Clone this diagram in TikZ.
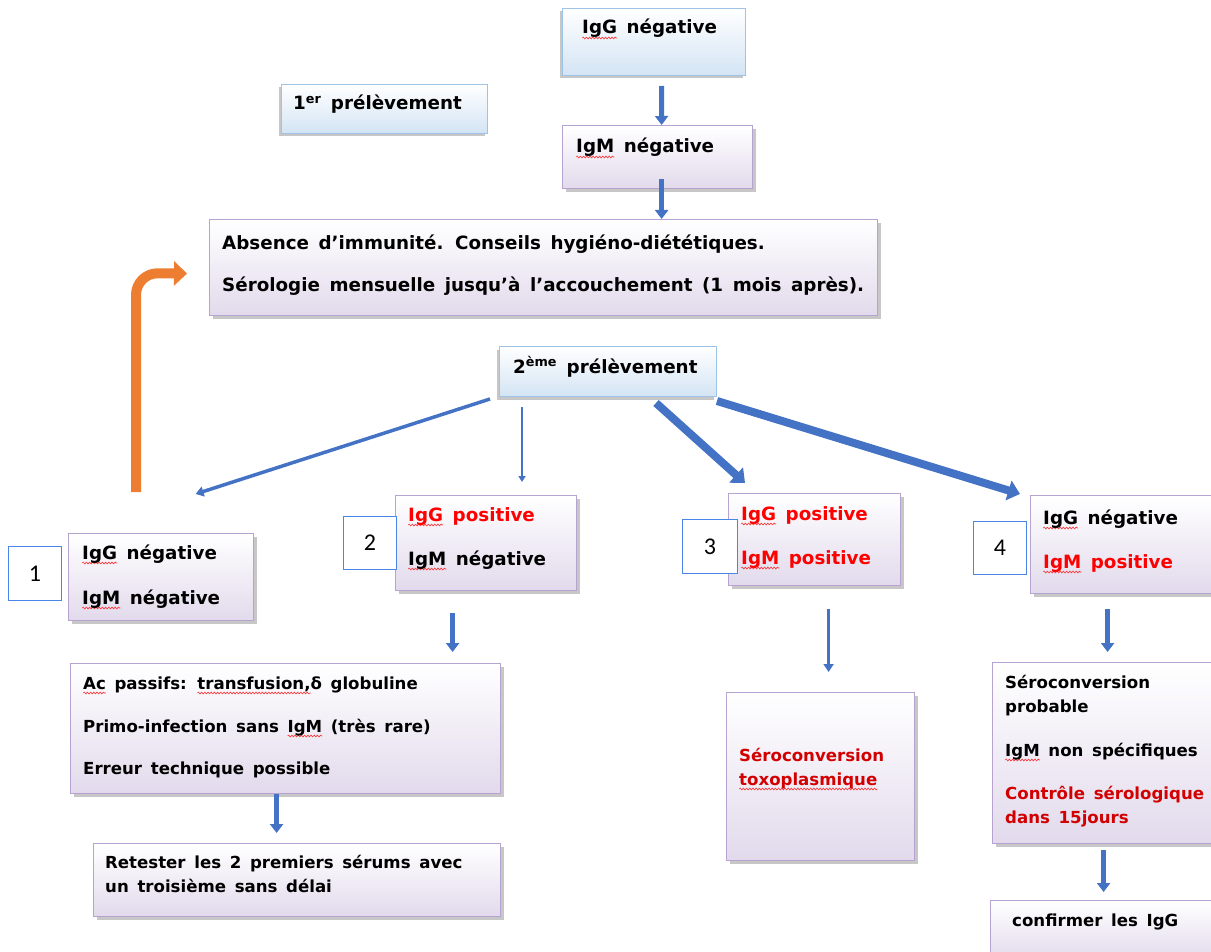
\documentclass[tikz,border=0pt]{standalone}
\usepackage{fontspec}
\setmainfont{DejaVu Sans}[WordSpace=1.5]
\newfontfamily\numfont{Carlito}
\usetikzlibrary{arrows.meta,shadows,decorations.pathmorphing}
\definecolor{boxblue}{HTML}{9DC3E6}
\definecolor{bluebot}{HTML}{D3E4F4}
\definecolor{purpborder}{HTML}{B7A3D0}
\definecolor{purpbot}{HTML}{E2DAEC}
\definecolor{numblue}{HTML}{4A86E8}
\definecolor{arrblue}{HTML}{4472C4}
\definecolor{arrorange}{HTML}{ED7D31}
\definecolor{redtxt}{HTML}{FF0000}
\definecolor{darkred}{HTML}{D20000}
\definecolor{squig}{HTML}{FF3030}
\newlength\sqlen
\newcommand\sq[1]{\settowidth{\sqlen}{#1}\leavevmode\rlap{\tikz[baseline=0pt,x=1pt,y=1pt]{\useasboundingbox (0pt,0pt);\draw[draw=squig, line width=0.6pt, decorate, decoration={snake,amplitude=0.9pt,segment length=3.2pt}] (0pt,-4pt) -- (\sqlen,-4pt);}}#1}
\tikzset{
  bbox/.style={draw=boxblue, line width=1pt, top color=white, bottom color=bluebot,
    drop shadow={shadow xshift=-3pt, shadow yshift=-3pt, fill=black!40, opacity=.55},
    anchor=north west, inner sep=0pt},
  pbox/.style={draw=purpborder, line width=1.2pt, top color=white, bottom color=purpbot,
    drop shadow={shadow xshift=3pt, shadow yshift=-3pt, fill=black!40, opacity=.55},
    anchor=north west, inner sep=0pt},
  numbox/.style={draw=numblue, line width=1pt, fill=white, anchor=north west,
    inner sep=0pt, font=\numfont\fontsize{24}{28}\selectfont},
  big/.style={anchor=base west, inner sep=0pt, font=\bfseries\fontsize{18.3}{22}\selectfont},
  small/.style={anchor=base west, inner sep=0pt, font=\bfseries\fontsize{16.6}{19}\selectfont},
  varr/.style={draw=arrblue, line width=5pt, -{Triangle[width=13pt,length=9pt]}},
  thinarr/.style={draw=arrblue, line width=2pt, -{Triangle[width=7pt,length=6pt]}},
  midarr/.style={draw=arrblue, line width=3.5pt, -{Triangle[width=10pt,length=8pt]}},
  fatarr/.style={draw=arrblue, line width=8pt, -{Triangle[width=20pt,length=12pt]}},
}
\begin{document}
\begin{tikzpicture}[x=1pt,y=-1pt]
\useasboundingbox (0,0) rectangle (1211,952);
% ---- top part
\node[bbox, minimum width=183pt, minimum height=67pt] (igg) at (562,8) {};
\node[pbox, minimum width=190pt, minimum height=63pt] (igm) at (562,125) {};
\node[bbox, minimum width=206pt, minimum height=49pt] (pr1) at (281,84) {};
\node[pbox, minimum width=668pt, minimum height=96pt] (absn) at (209,219) {};
\node[bbox, minimum width=217pt, minimum height=50pt] (pr2) at (499,346) {};
\node[big] (tigg) at (582,34) {\sq{IgG} négative};
\node[big] (tigm) at (576,153) {\sq{IgM} négative};
\node[big] (tpr1) at (293,110) {1\textsuperscript{er} prélèvement};
\node[big] (tabs1) at (222,250) {Absence d’immunité. Conseils hygiéno-diététiques.};
\node[big] (tabs2) at (222,292) {Sérologie mensuelle jusqu'à l’accouchement (1 mois après).};
\node[big] (tpr2) at (513,373) {2\textsuperscript{ème} prélèvement};
\draw[varr] ([shift={(7.5,10)}]igg.south) -- ([shift={(4,0)}]igm.north);
\draw[varr] ([shift={(4,-10)}]igm.south) -- ([shift={(118,0)}]absn.north);
% ---- second row
\node[pbox, minimum width=185pt, minimum height=87pt] (b1) at (68,533) {};
\node[numbox, minimum width=53pt, minimum height=54pt] (n1) at (8,546) {1};
\node[pbox, minimum width=181pt, minimum height=95pt] (b2) at (395,495) {};
\node[numbox, minimum width=53pt, minimum height=53pt] (n2) at (343,516) {2};
\node[pbox, minimum width=172pt, minimum height=92pt] (b3) at (728,493) {};
\node[numbox, minimum width=55pt, minimum height=54pt] (n3) at (682,519) {3};
\node[pbox, minimum width=200pt, minimum height=98pt] (b4) at (1030,495) {};
\node[numbox, minimum width=53pt, minimum height=53pt] (n4) at (973,521) {4};
\node[big] (tb1a) at (82,559) {\sq{IgG} négative};
\node[big] (tb1b) at (82,604) {\sq{IgM} négative};
\node[big, text=redtxt] (tb2a) at (408,521) {\sq{IgG} positive};
\node[big] (tb2b) at (408,565) {\sq{IgM} négative};
\node[big, text=redtxt] (tb3a) at (741,520) {\sq{IgG} positive};
\node[big, text=redtxt] (tb3b) at (741,564) {\sq{IgM} positive};
\node[big] (tb4a) at (1043,524) {\sq{IgG} négative};
\node[big, text=redtxt] (tb4b) at (1043,568) {\sq{IgM} positive};
\draw[midarr] ([shift={(-9,2)}]pr2.south west) -- ([shift={(34.5,-39)}]b1.north);
\draw[thinarr] ([shift={(23,10)}]pr2.south west) -- ([shift={(127,-13)}]b2.north west);
\draw[fatarr] ([shift={(157,6)}]pr2.south west) -- ([shift={(17,-10)}]b3.north west);
\draw[fatarr] ([shift={(0,4)}]pr2.south east) -- ([shift={(-10,-1)}]b4.north west);
\draw[arrorange, line width=10pt, rounded corners=22pt, -{Triangle[width=24pt,length=13pt]}]
  ([shift={(68,-41)}]b1.north west) -- ++(0,-219) -- ([shift={(-22,6)}]absn.west);
% ---- lower part
\node[pbox, minimum width=430pt, minimum height=130pt] (ac) at (70,663) {};
\node[pbox, minimum width=407pt, minimum height=73pt] (ret) at (93,843) {};
\node[pbox, minimum width=188pt, minimum height=168pt] (sero) at (726,692) {};
\node[pbox, minimum width=230pt, minimum height=181pt] (sp) at (992,662) {};
\node[pbox, minimum width=230pt, minimum height=60pt] (conf) at (990,900) {};
\node[small] (tac1) at (83,689) {\sq{Ac} passifs: \sq{transfusion,}δ globuline};
\node[small] (tac2) at (83,732) {Primo-infection sans \sq{IgM} (très rare)};
\node[small] (tac3) at (83,774) {Erreur technique possible};
\node[small] (tret1) at (105,868) {Retester les 2 premiers sérums avec};
\node[small] (tret2) at (105,892) {un troisième sans délai};
\node[small, text=darkred] (tsero1) at (739,761) {Séroconversion};
\node[small, text=darkred] (tsero2) at (739,785) {\sq{toxoplasmique}};
\node[small] (tsp1) at (1005,688) {Séroconversion};
\node[small] (tsp2) at (1005,712) {probable};
\node[small] (tsp3) at (1005,756) {\sq{IgM} non spécifiques};
\node[small, text=darkred] (tsp4) at (1005,799) {Contrôle sérologique};
\node[small, text=darkred] (tsp5) at (1005,823) {dans 15jours};
\node[small] (tconf) at (1012,926) {confirmer les IgG};
\draw[varr] ([shift={(-33.5,22)}]b2.south) -- ([shift={(167,-11)}]ac.north);
\draw[varr] ([shift={(-9,0)}]ac.south) -- ([shift={(-20.5,-10)}]ret.north);
\draw[midarr, line width=3pt] ([shift={(14,23)}]b3.south) -- ([shift={(8,-20)}]sero.north);
\draw[varr] ([shift={(-23,15)}]b4.south) -- ([shift={(0,-10)}]sp.north);
\draw[varr] ([shift={(-4,6)}]sp.south) -- ([shift={(-2,-8)}]conf.north);
\end{tikzpicture}
\end{document}
